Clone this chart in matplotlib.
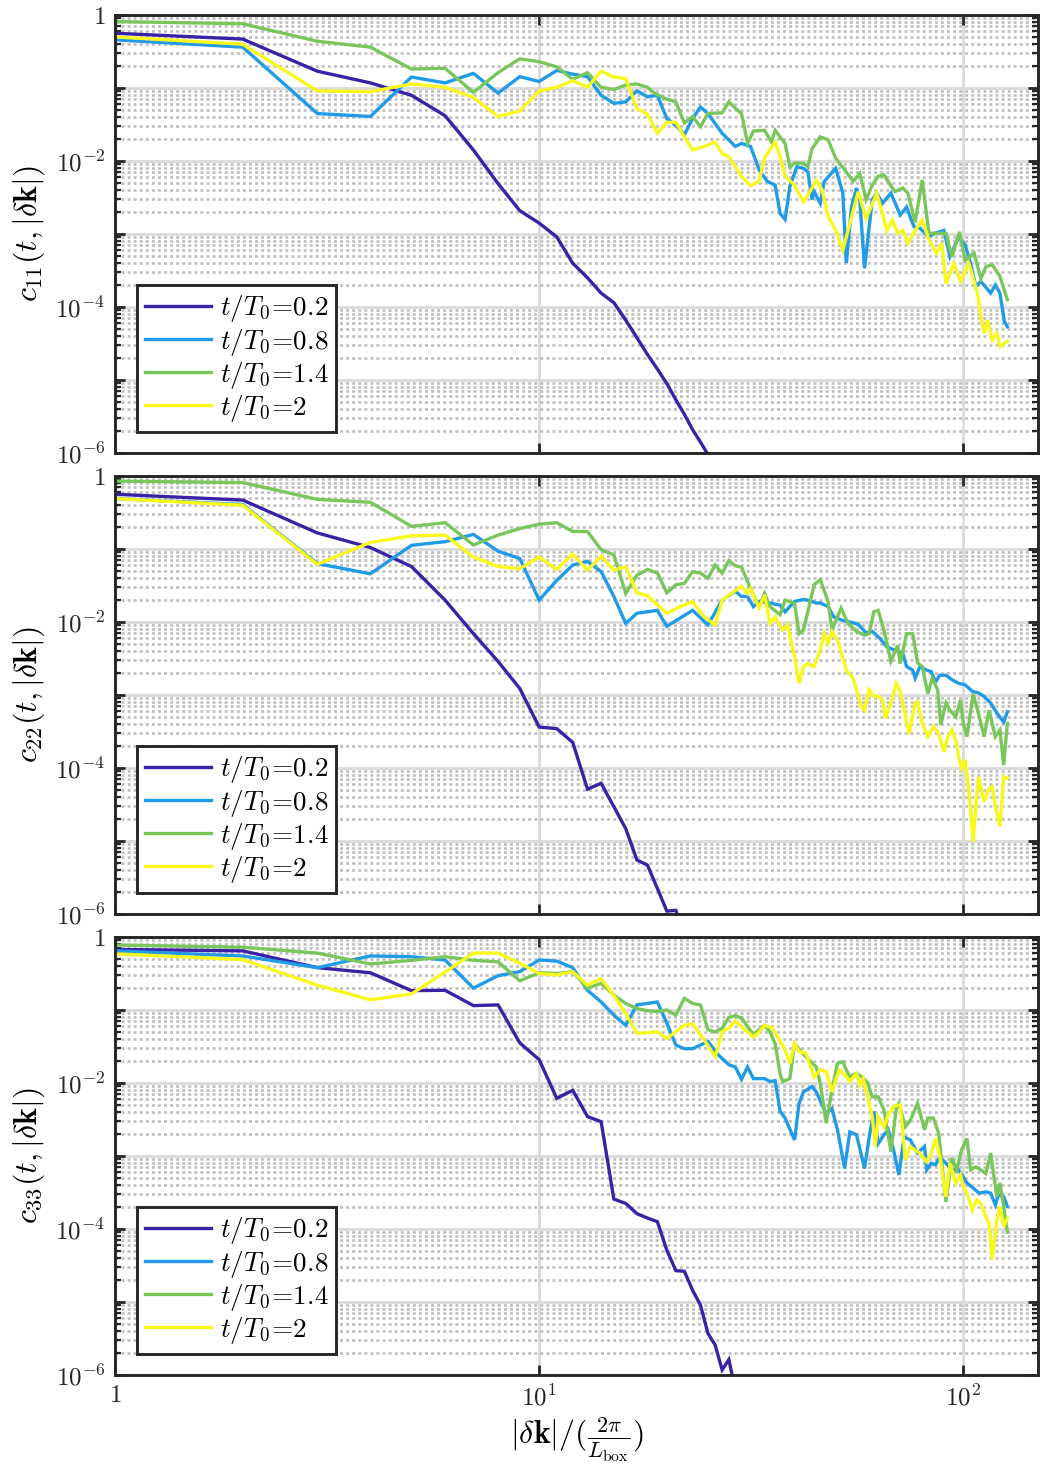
import numpy as np
import matplotlib
matplotlib.use("Agg")
import matplotlib.pyplot as plt
from matplotlib.ticker import FixedLocator, FuncFormatter, NullLocator

plt.rcParams["mathtext.fontset"] = "cm"
plt.rcParams["font.family"] = ["serif"]
plt.rcParams["font.serif"] = ["cmr10", "DejaVu Serif"]
plt.rcParams["axes.formatter.use_mathtext"] = True

# ---------------- data (values are log10 of c_ii) ----------------
labels = [r"$t/T_0\!=\!0.2$", r"$t/T_0\!=\!0.8$", r"$t/T_0\!=\!1.4$", r"$t/T_0\!=\!2$"]
colors = ["#3a22a6", "#219be8", "#79c75a", "#f8f81c"]
ylabels = [r"$c_{11}(t,|\delta\mathbf{k}|)$", r"$c_{22}(t,|\delta\mathbf{k}|)$",
           r"$c_{33}(t,|\delta\mathbf{k}|)$"]

# ---- panel 1 : c11 ----
k11_a = list(range(1, 27))
c11_a = [-0.25, -0.33, -0.77, -0.93, -1.10, -1.38, -1.85, -2.31, -2.68, -2.85, -3.04, -3.40, -3.60,
         -3.81, -3.94, -4.18, -4.42, -4.65, -4.85, -5.05, -5.27, -5.47, -5.68, -5.85, -6.02, -6.20]
k11_b = [1, 2, 3, 4, 5, 6, 7, 8, 9, 10, 11, 12, 13, 14, 15, 16, 17, 18, 19, 20, 21, 22, 23, 24, 25,
         27, 29, 30, 31.5, 33, 34.5, 36, 37, 38, 39, 40.5, 42, 43, 44, 44.5, 46, 47, 50, 52, 53, 54.5,
         56, 57, 58.5, 60, 61, 62.5, 64.5, 67.5, 71, 73.5, 76.5, 79, 83, 85.5, 90, 93, 97.5, 101,
         104, 107, 110, 116, 119, 122, 125, 127]
c11_b = [-0.34, -0.44, -1.35, -1.39, -0.85, -0.93, -0.80, -1.07, -0.845, -0.91, -0.76, -0.81, -0.845,
         -1.10, -1.21, -1.19, -1.04, -1.12, -1.10, -1.42, -1.51, -1.64, -1.42, -1.26, -1.35,
         -1.62, -1.80, -1.76, -1.80, -2.12, -2.28, -2.33, -2.72, -2.80, -2.35, -2.08, -2.10, -2.15,
         -2.53, -2.42, -2.58, -2.28, -2.10, -2.44, -3.40, -2.63, -2.37, -2.53, -3.47, -2.90, -2.53,
         -2.44, -2.58, -2.44, -2.74, -2.63, -2.90, -2.92, -3.04, -2.99, -2.95, -3.31, -3.04, -3.15,
         -3.40, -3.72, -3.65, -3.81, -3.70, -3.81, -4.20, -4.27]
k11_c = [1, 2, 3, 4, 5, 6, 7, 8, 9, 10, 11, 12, 13, 14, 15, 16, 17, 18, 18.7, 19.7, 21, 22, 23, 24,
         25, 27, 28, 29.3, 30, 31, 32, 34, 35.3, 36, 38, 39, 40, 42, 43, 44, 46, 48, 50, 52.5, 55,
         57, 59, 61, 63, 65, 67, 69, 72, 74, 77, 80, 83, 88, 91, 94, 98, 101, 106, 110, 113, 117,
         122, 127]
c11_c = [-0.09, -0.12, -0.36, -0.44, -0.74, -0.73, -1.06, -0.79, -0.60, -0.64, -0.71, -0.88, -0.79,
         -0.99, -1.02, -0.96, -0.945, -0.99, -1.07, -1.14, -1.19, -1.48, -1.39, -1.53, -1.35,
         -1.34, -1.19, -1.30, -1.35, -1.76, -1.59, -1.58, -1.74, -1.58, -1.76, -2.08, -2.03, -2.03,
         -2.08, -1.83, -1.67, -1.71, -1.96, -2.12, -2.28, -2.17, -2.53, -2.33, -2.21, -2.19, -2.31,
         -2.42, -2.37, -2.44, -2.84, -2.26, -2.99, -2.99, -2.99, -3.31, -2.97, -3.36, -3.26, -3.61,
         -3.45, -3.42, -3.58, -3.90]
k11_d = [1, 2, 3, 4, 5, 6, 7, 8, 9, 10, 11, 12, 13, 14, 15, 16, 17, 18, 19, 20, 21, 22, 23, 24.5,
         26, 27, 28, 30, 31.5, 33, 34, 36, 37, 38, 40, 42, 43.5, 45, 46.5, 48, 50, 52, 53.5, 56.5,
         59, 62.5, 64.5, 66, 68, 70, 72, 74, 77, 80, 83, 86.5, 89, 91, 95, 98.5, 103, 108, 110,
         112, 114, 117, 120, 122, 127]
c11_d = [-0.30, -0.40, -1.04, -1.05, -0.945, -0.99, -1.13, -1.39, -1.315, -1.04, -0.99, -0.90,
         -0.99, -0.77, -0.85, -0.87, -1.28, -1.36, -1.62, -1.47, -1.47, -1.67, -1.85, -1.80, -1.74,
         -1.90, -1.94, -2.21, -2.34, -2.28, -1.96, -1.74, -1.94, -2.21, -2.33, -2.56, -2.42, -2.26,
         -2.40, -2.76, -2.95, -3.22, -2.95, -2.42, -2.79, -2.44, -2.72, -2.95, -2.81, -2.99, -2.95,
         -3.13, -2.95, -2.81, -3.08, -3.26, -3.13, -3.68, -3.40, -3.65, -3.40, -3.81, -4.13, -4.36,
         -4.18, -4.45, -4.36, -4.54, -4.47]

# ---- panel 2 : c22 ----
k22_a = list(range(1, 23))
c22_a = [-0.25, -0.33, -0.78, -0.98, -1.24, -1.70, -2.16, -2.54, -2.91, -3.44, -3.46, -3.65, -4.29,
         -4.21, -4.53, -4.83, -5.26, -5.33, -5.65, -5.96, -5.95, -6.30]
k22_b = [1, 2, 3, 4, 5, 6, 7, 8, 9, 10, 11, 12, 13, 14, 15, 16, 17, 19, 20, 23, 25, 27, 29, 30, 31,
         32, 33, 35, 37, 38, 40, 42, 43.5, 45, 46, 48, 49.5, 52, 54, 56.5, 59, 61, 63.5, 66, 68.5,
         72, 73.5, 76, 77, 79, 82, 84, 86, 88, 91, 94, 97.5, 101, 105, 108.5, 112, 116, 120, 124.5,
         127]
c22_b = [-0.31, -0.39, -1.20, -1.34, -0.95, -0.90, -0.80, -1.03, -1.13, -1.70, -1.43, -1.22, -1.17,
         -1.31, -1.65, -2.02, -1.88, -1.84, -2.06, -1.84, -2.04, -1.70, -1.58, -1.65, -1.65, -1.79,
         -1.72, -1.74, -1.77, -1.86, -1.72, -1.69, -1.71, -1.74, -1.74, -1.79, -1.93, -1.98, -2.00,
         -2.03, -2.15, -2.13, -2.22, -2.34, -2.38, -2.43, -2.61, -2.66, -2.77, -2.61, -2.66, -2.68,
         -2.82, -2.73, -2.73, -2.79, -2.84, -2.86, -2.95, -2.97, -3.02, -3.11, -3.25, -3.37, -3.23]
k22_c = [1, 2, 3, 4, 5, 6, 7, 8, 9, 10, 11, 12, 13, 14, 15, 16, 17, 18, 19, 20, 21, 22, 23, 24, 25,
         26, 27, 28, 29, 30, 31.5, 33, 34, 35, 37, 38, 40, 41, 42, 44.5, 46, 48, 49, 51.5, 53.5, 56,
         58.5, 60, 61.5, 63, 65, 67.5, 70, 71, 73.5, 76, 78, 80, 82.5, 84.5, 87, 88.5, 91, 93, 96,
         98.5, 100, 102, 105.5, 108.5, 112, 115, 119, 122, 124.5, 127]
c22_c = [-0.07, -0.09, -0.32, -0.36, -0.69, -0.64, -0.945, -0.81, -0.72, -0.66, -0.64, -0.76, -0.76,
         -1.01, -1.08, -1.61, -1.36, -1.28, -1.33, -1.60, -1.49, -1.47, -1.31, -1.33, -1.40, -1.22,
         -1.33, -1.16, -1.23, -1.25, -1.54, -1.79, -1.61, -1.79, -1.90, -1.70, -1.74, -2.16, -2.11,
         -1.49, -1.42, -1.72, -2.11, -1.81, -2.02, -2.13, -2.18, -2.16, -1.86, -1.84, -2.11, -2.54,
         -2.32, -2.57, -2.16, -2.16, -2.56, -2.61, -2.98, -2.77, -2.93, -3.41, -3.11, -3.21, -3.30,
         -3.07, -3.39, -3.57, -2.98, -3.25, -3.57, -3.21, -3.57, -3.48, -3.96, -3.39]
k22_d = [1, 2, 3, 4, 5, 6, 7, 8, 9, 10, 11, 12, 13, 14, 15, 16, 17, 18, 20, 21.5, 23, 24.5, 26, 27,
         30, 31, 31.5, 33, 34, 35, 36, 37.5, 38.5, 40, 41, 42, 43, 44.5, 46, 47, 48, 49, 50.5, 53,
         55, 57.5, 58.5, 60, 61.5, 63, 64.5, 65.5, 67.5, 69.5, 71, 74.5, 77, 78, 80, 82.5, 85, 87.5,
         90, 92, 94, 96, 97.5, 99, 101, 104, 105.5, 108.5, 112, 115, 117, 119, 122, 124.5, 127]
c22_d = [-0.31, -0.40, -1.21, -0.91, -0.82, -0.81, -1.11, -1.24, -1.27, -1.11, -1.28, -1.07, -1.29,
         -1.10, -1.29, -1.24, -1.60, -1.64, -1.88, -1.79, -1.72, -1.93, -2.04, -1.70, -1.51, -1.61,
         -1.54, -1.81, -1.63, -2.02, -1.93, -2.11, -2.04, -2.47, -2.84, -2.61, -2.57, -2.61, -2.38,
         -2.16, -2.29, -2.13, -2.25, -2.66, -2.77, -3.16, -3.21, -2.93, -3.02, -3.02, -3.07, -3.32,
         -3.11, -2.84, -2.95, -3.53, -3.11, -3.09, -3.39, -3.57, -3.43, -3.53, -3.78, -3.57, -3.48,
         -3.62, -3.84, -4.00, -3.89, -4.53, -5.01, -4.12, -4.46, -4.28, -4.26, -4.53, -4.80, -4.12,
         -4.14]

# ---- panel 3 : c33 ----
k33_a = list(range(1, 30))
c33_a = [-0.17, -0.19, -0.42, -0.49, -0.735, -0.73, -0.94, -0.93, -1.45, -1.68, -2.21, -2.10, -2.46,
         -2.53, -3.59, -3.65, -3.79, -3.85, -3.90, -4.29, -4.57, -4.58, -4.84, -5.04, -5.43, -5.59,
         -5.93, -5.79, -6.20]
k33_b = [1, 2, 3, 4, 5, 6, 7, 8, 9, 10, 11, 12, 13, 14, 15, 16, 17, 18, 19, 20, 21, 22, 23, 24, 25,
         26.5, 28, 29, 30, 31, 32, 34, 35, 36, 37, 38, 40, 41, 42, 44, 45, 47.5, 49, 50.5, 52.5, 54,
         56, 58.5, 60, 61.5, 63, 65, 66.5, 68.5, 70.5, 72.5, 75, 78, 81, 82, 84, 86, 88, 91, 94,
         97.5, 102, 105.5, 109, 113, 116, 119, 121, 124.5, 127]
c33_b = [-0.19, -0.26, -0.42, -0.26, -0.27, -0.315, -0.70, -0.53, -0.475, -0.315, -0.33, -0.42,
         -0.73, -0.89, -1.07, -1.21, -0.93, -0.91, -0.89, -1.18, -1.48, -1.53, -1.53, -1.48, -1.43,
         -1.62, -1.75, -1.78, -1.95, -1.78, -1.94, -1.94, -1.98, -1.97, -2.39, -2.48, -2.78, -2.28,
         -2.12, -2.05, -2.12, -2.42, -2.35, -2.64, -3.17, -2.67, -2.71, -3.17, -2.74, -2.39, -2.83,
         -2.71, -2.64, -2.92, -3.26, -2.74, -2.78, -2.96, -2.87, -3.19, -3.10, -3.12, -3.01, -3.10,
         -3.19, -3.19, -3.37, -3.44, -3.51, -3.49, -3.51, -3.67, -3.53, -3.56, -3.69]
k33_c = [1, 2, 3, 4, 5, 6, 7, 8, 9, 10, 11, 12, 13, 14, 15, 16, 17, 18, 19, 20, 21, 22, 23, 24, 25,
         26, 27, 28, 29, 30, 32, 33, 34, 35, 36, 37, 37.5, 39, 40, 42.5, 45, 46, 47.5, 49, 50.5, 52,
         53, 54, 56, 57.5, 59.5, 61, 63, 65, 67.5, 69.5, 70.5, 73, 75, 78, 81, 82.5, 85, 87.5, 91,
         94, 96.5, 99, 102, 104, 107, 110, 113, 116, 120, 122, 124.5, 127]
c33_c = [-0.11, -0.14, -0.22, -0.37, -0.32, -0.27, -0.32, -0.34, -0.60, -0.49, -0.50, -0.475, -0.70,
         -0.635, -0.795, -0.91, -0.98, -1.01, -1.02, -1.00, -1.07, -0.84, -0.91, -0.93, -1.27,
         -1.30, -1.25, -1.10, -1.08, -1.11, -1.34, -1.27, -1.21, -1.30, -1.46, -1.88, -1.98, -1.94,
         -1.46, -1.64, -1.78, -2.00, -2.55, -2.10, -1.73, -1.71, -1.82, -1.91, -1.87, -1.91, -2.00,
         -2.19, -2.19, -2.37, -2.94, -2.35, -2.28, -2.60, -2.51, -2.28, -2.64, -2.48, -2.48, -2.69,
         -3.63, -3.03, -3.19, -2.92, -2.76, -3.19, -3.15, -3.19, -3.24, -2.96, -3.56, -3.37, -3.69,
         -4.04]
k33_d = [1, 2, 3, 4, 5, 6, 7, 8, 9, 10, 11, 12, 13, 14, 15, 16, 17, 19, 20, 22, 23, 24.5, 26, 27,
         28, 29, 30, 32, 33, 34, 35.5, 37, 38, 39, 40, 41, 42.5, 44.5, 46, 47.5, 49, 51, 53, 54, 56,
         57, 58, 59.5, 61, 62, 63, 65, 66.5, 68.5, 71, 73, 75, 77, 79, 82, 84, 86, 88, 91, 93, 96,
         98.5, 100, 102, 105, 107.5, 110, 113, 115, 117, 120, 122, 124.5, 127]
c33_d = [-0.23, -0.31, -0.66, -0.86, -0.78, -0.48, -0.22, -0.22, -0.36, -0.50, -0.52, -0.475, -0.66,
         -0.57, -0.80, -1.05, -1.32, -1.30, -1.39, -1.21, -1.19, -1.41, -1.64, -1.30, -1.25, -1.15,
         -1.23, -1.37, -1.30, -1.21, -1.25, -1.43, -1.55, -1.73, -1.46, -1.57, -1.59, -1.92, -1.82,
         -1.84, -2.12, -1.82, -1.91, -1.98, -1.87, -2.03, -1.94, -2.19, -2.46, -2.87, -2.46, -2.60,
         -2.44, -2.32, -2.30, -3.05, -2.87, -2.92, -2.96, -3.08, -2.96, -2.76, -3.01, -3.56, -3.10,
         -3.37, -3.26, -3.42, -3.51, -3.74, -3.60, -3.65, -3.83, -3.92, -4.42, -3.87, -3.69, -3.97,
         -3.85]

panels = [
    [(k11_a, c11_a), (k11_b, c11_b), (k11_c, c11_c), (k11_d, c11_d)],
    [(k22_a, c22_a), (k22_b, c22_b), (k22_c, c22_c), (k22_d, c22_d)],
    [(k33_a, c33_a), (k33_b, c33_b), (k33_c, c33_c), (k33_d, c33_d)],
]

x_ticks = [1, 10, 100]
y_ticks = [1e-6, 1e-5, 1e-4, 1e-3, 1e-2, 1e-1, 1]

# ---------------- figure ----------------
W, H = 1046, 1464
fig = plt.figure(figsize=(W / 100, H / 100), dpi=100)
spine_c = "#262626"

left = 115 / W
width = (1038 - 115) / W
tops = [15, 476, 937]
ph = 438


def yfmt(v, pos):
    e = int(round(np.log10(v)))
    if e == 0:
        return "$1$"
    if e % 2 == 0:
        return "$10^{%d}$" % e
    return ""


def xfmt(v, pos):
    e = int(round(np.log10(v)))
    if e == 0:
        return "$1$"
    return "$10^{%d}$" % e


for i, series in enumerate(panels):
    bottom = 1 - (tops[i] + ph) / H
    ax = fig.add_axes([left, bottom, width, ph / H])
    ax.set_xscale("log")
    ax.set_yscale("log")
    ax.set_xlim(1, 150)
    ax.set_ylim(1e-6, 1)
    ax.set_axisbelow(True)

    for (kk, lc), col, lab in zip(series, colors, labels):
        ax.plot(kk, np.power(10.0, np.array(lc)), color=col, lw=2.4, label=lab,
                solid_joinstyle="miter", zorder=3)

    ax.xaxis.set_major_locator(FixedLocator(x_ticks))
    ax.xaxis.set_minor_locator(NullLocator())
    ax.yaxis.set_major_locator(FixedLocator(y_ticks))
    minors = [m * 10.0 ** e for e in range(-6, 0) for m in range(2, 10)]
    ax.yaxis.set_minor_locator(FixedLocator(minors))
    ax.yaxis.set_major_formatter(FuncFormatter(yfmt))
    ax.yaxis.set_minor_formatter(FuncFormatter(lambda v, p: ""))
    if i == 2:
        ax.xaxis.set_major_formatter(FuncFormatter(xfmt))
        ax.set_xlabel(r"$|\delta\mathbf{k}|/(\frac{2\pi}{L_{\rm box}})$", fontsize=23, labelpad=4)
    else:
        ax.xaxis.set_major_formatter(FuncFormatter(lambda v, p: ""))

    ax.tick_params(which="both", direction="in", top=True, right=True, colors=spine_c,
                   labelsize=18, labelcolor="#262626")
    ax.tick_params(which="major", length=7.5, width=2.0, pad=7)
    ax.tick_params(which="minor", length=4.5, width=1.6)

    ax.grid(True, which="major", axis="both", color="#dadada", lw=2.0, ls="-", zorder=0)
    ax.grid(True, which="minor", axis="y", color="#bebebe", lw=1.9, ls=(0, (1.1, 1.2)), zorder=0)

    for s in ax.spines.values():
        s.set_linewidth(2.1)
        s.set_color(spine_c)
        s.set_zorder(5)

    ax.set_ylabel(ylabels[i], fontsize=23, labelpad=6)

    leg = ax.legend(loc="lower left", bbox_to_anchor=(22 / 923, 21 / 438), borderaxespad=0,
                    fontsize=19.5, handlelength=2.45, handletextpad=0.3, labelspacing=0.08,
                    borderpad=0.3, fancybox=False, framealpha=1, edgecolor=spine_c)
    leg.get_frame().set_linewidth(2.1)

fig.savefig("out.png", dpi=100)
